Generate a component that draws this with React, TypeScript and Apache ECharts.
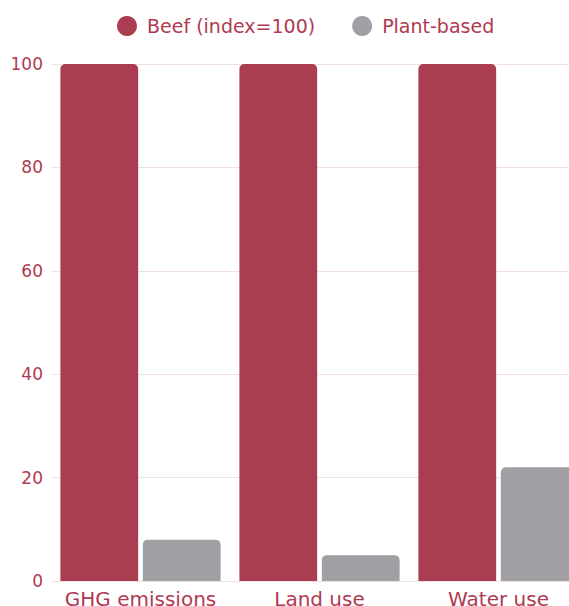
import React, { useEffect, useRef } from "react";
import * as echarts from "echarts";

const categories = ["GHG emissions", "Land use", "Water use"];
const beefValues = [100, 100, 100];
const plantValues = [8, 5, 22];
const seriesNames = ["Beef (index=100)", "Plant-based"];

const FONT = "'DejaVu Sans', 'Noto Sans', sans-serif";
const TEXT_COLOR = "#b03a52";

export default function App() {
  const ref = useRef<HTMLDivElement>(null);

  useEffect(() => {
    if (!ref.current) return;
    const chart = echarts.init(ref.current, undefined, { renderer: "svg" });
    chart.setOption({
      animation: false,
      textStyle: { fontFamily: FONT },
      legend: {
        left: 117,
        top: 16,
        padding: 0,
        itemWidth: 20,
        itemHeight: 20,
        itemGap: 37,
        icon: "circle",
        textStyle: { color: TEXT_COLOR, fontSize: 19, fontFamily: FONT, padding: [0, 0, 0, 5] },
        data: seriesNames,
      },
      grid: { left: 51, right: 0, top: 64, bottom: 44, containLabel: false },
      xAxis: {
        type: "category",
        data: categories,
        axisLine: { show: false },
        axisTick: { show: false },
        axisLabel: {
          color: TEXT_COLOR,
          fontSize: 20,
          fontFamily: FONT,
          margin: 8,
          interval: 0,
          hideOverlap: false,
        },
      },
      yAxis: {
        type: "value",
        min: 0,
        max: 100,
        interval: 20,
        axisLine: { show: false },
        axisTick: { show: false },
        axisLabel: { color: TEXT_COLOR, fontSize: 17, fontFamily: FONT, margin: 8 },
        splitLine: { lineStyle: { color: "#f2dfe4", width: 1 } },
      },
      series: [
        {
          name: seriesNames[0],
          type: "bar",
          data: beefValues,
          barGap: "6%",
          barCategoryGap: "10.5%",
          itemStyle: { color: "#ab3d51", borderRadius: [5, 5, 0, 0] },
        },
        {
          name: seriesNames[1],
          type: "bar",
          data: plantValues,
          itemStyle: { color: "#a09fa4", borderRadius: [5, 5, 0, 0] },
        },
      ],
    });
    return () => chart.dispose();
  }, []);

  return (
    <div
      style={{
        position: "absolute",
        left: 0,
        top: 0,
        width: 569,
        height: 606,
        overflow: "hidden",
      }}
    >
      <div ref={ref} style={{ width: 588, height: 625 }} />
    </div>
  );
}
